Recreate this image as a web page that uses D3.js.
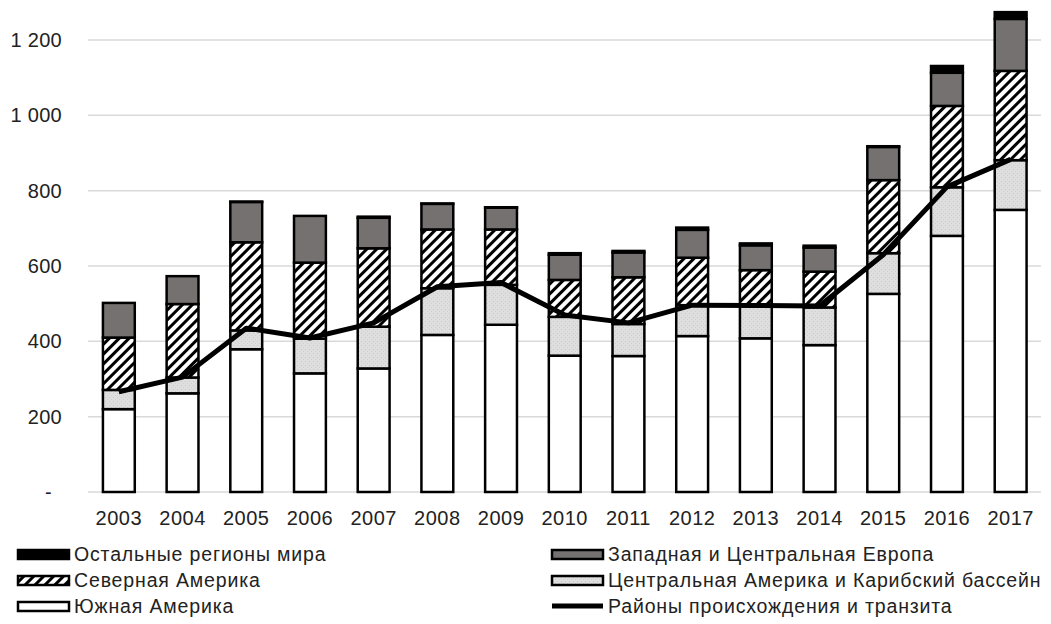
<!DOCTYPE html>
<html lang="ru">
<head>
<meta charset="UTF-8">
<title>Районы происхождения и транзита</title>
<script src="https://d3js.org/d3.v7.min.js"></script>
<style>
  body { margin: 0; background: #fff; }
  svg text { font-family: "Liberation Sans", Arial, sans-serif; fill: #222; }
</style>
</head>
<body>
<div id="chart"></div>
<script>
// values
const years = ["2003","2004","2005","2006","2007","2008","2009","2010","2011","2012","2013","2014","2015","2016","2017"];
const southAmerica     = [220, 262, 379, 315, 328, 417, 444, 362, 361, 414, 408, 390, 526, 680, 749];
const centralAmerica   = [ 51,  42,  50,  92, 111, 124, 106, 103,  85,  82,  86, 100, 108, 129, 132];
const northAmerica     = [139, 195, 234, 202, 208, 156, 147,  98, 124, 126,  95,  95, 194, 216, 237];
const westCentralEurope= [ 92,  74, 107, 124,  81,  68,  58,  67,  66,  74,  66,  64,  88,  88, 138];
const otherRegions     = [  0,   0,   1,   0,   3,   1,   1,   4,   4,   6,   5,   5,   2,  18,  18];
const originTransit    = [266, 305, 435, 409, 449, 545, 556, 470, 449, 496, 495, 494, 630, 810, 883];
const yTicks = [0, 200, 400, 600, 800, 1000, 1200];

const width = 1051, height = 624;
const svg = d3.select("#chart").append("svg")
    .attr("width", width).attr("height", height);

const defs = svg.append("defs");
const hatch = defs.append("pattern")
    .attr("id", "hatch")
    .attr("patternUnits", "userSpaceOnUse")
    .attr("width", 7).attr("height", 7)
    .attr("patternTransform", "rotate(45)");
hatch.append("rect").attr("width", 7).attr("height", 7).attr("fill", "#fff");
hatch.append("rect").attr("width", 3).attr("height", 7).attr("fill", "#000");

const dots = defs.append("pattern")
    .attr("id", "dots")
    .attr("patternUnits", "userSpaceOnUse")
    .attr("width", 4).attr("height", 4);
dots.append("rect").attr("width", 4).attr("height", 4).attr("fill", "#dedede");
dots.append("rect").attr("x", 1).attr("y", 1).attr("width", 1).attr("height", 1).attr("fill", "#c9c9c9");
dots.append("rect").attr("x", 3).attr("y", 3).attr("width", 1).attr("height", 1).attr("fill", "#cfcfcf");

const series = [
    { key: "sa",  name: "Южная Америка", values: southAmerica, fill: "#fff" },
    { key: "ca",  name: "Центральная Америка и Карибский бассейн", values: centralAmerica, fill: "url(#dots)" },
    { key: "na",  name: "Северная Америка", values: northAmerica, fill: "url(#hatch)" },
    { key: "wce", name: "Западная и Центральная Европа", values: westCentralEurope, fill: "#767171" },
    { key: "oth", name: "Остальные регионы мира", values: otherRegions, fill: "#000" }
];

const table = years.map((y, i) => {
    const row = { year: y };
    series.forEach(s => row[s.key] = s.values[i]);
    return row;
});

const x = d3.scaleBand()
    .domain(years)
    .range([87, 1042.5])
    .paddingInner(0.5)
    .paddingOuter(0.25);

const y = d3.scaleLinear()
    .domain([0, 1200])
    .range([492, 40]);

// gridlines
svg.append("g")
    .selectAll("line")
    .data(yTicks)
    .join("line")
    .attr("x1", 88).attr("x2", 1041)
    .attr("y1", d => y(d)).attr("y2", d => y(d))
    .attr("stroke", "#d9d9d9")
    .attr("stroke-width", 1.5);

// y labels
svg.append("g")
    .selectAll("text")
    .data(yTicks)
    .join("text")
    .attr("x", d => d === 0 ? 52 : 62)
    .attr("y", d => y(d))
    .attr("dy", "0.35em")
    .attr("text-anchor", "end")
    .attr("font-size", "20px")
    .attr("letter-spacing", "0.3px")
    .text(d => d === 0 ? "-" : d3.format(",")(d).replace(",", "\u00a0"));

// x axis
const xAxis = svg.append("g")
    .attr("transform", `translate(0,${y(0)})`)
    .call(d3.axisBottom(x).tickSize(0).tickPadding(19));
xAxis.select(".domain").remove();
xAxis.selectAll("text")
    .attr("font-size", "20px")
    .attr("letter-spacing", "0.5px")
    .attr("font-family", "'Liberation Sans', Arial, sans-serif")
    .attr("fill", "#222");

// stacked bars
const stacked = d3.stack().keys(series.map(s => s.key))(table);

svg.append("g")
    .selectAll("g")
    .data(stacked)
    .join("g")
    .attr("fill", (d, i) => series[i].fill)
    .selectAll("rect")
    .data(d => d)
    .join("rect")
    .attr("x", d => x(d.data.year))
    .attr("width", x.bandwidth())
    .attr("y", d => y(d[1]))
    .attr("height", d => y(d[0]) - y(d[1]))
    .attr("stroke", "#000")
    .attr("stroke-width", 2.5);

// line
const line = d3.line()
    .x((d, i) => x(years[i]) + x.bandwidth() / 2)
    .y(d => y(d));

svg.append("path")
    .datum(originTransit)
    .attr("d", line)
    .attr("fill", "none")
    .attr("stroke", "#000")
    .attr("stroke-width", 5)
    .attr("stroke-linejoin", "round");

// legend
const legendItems = [
    { s: series[4], col: 0, row: 0 },
    { s: series[3], col: 1, row: 0 },
    { s: series[2], col: 0, row: 1 },
    { s: series[1], col: 1, row: 1 },
    { s: series[0], col: 0, row: 2 },
    { s: null, name: "Районы происхождения и транзита", col: 1, row: 2 }
];
const colX = [18, 552];
const rowY = [554, 580, 606];

const legend = svg.append("g");
legendItems.forEach(item => {
    const g = legend.append("g")
        .attr("transform", `translate(${colX[item.col]},${rowY[item.row]})`);
    if (item.s) {
        g.append("rect")
            .attr("x", 0).attr("y", -4)
            .attr("width", 51).attr("height", 9)
            .attr("fill", item.s.fill)
            .attr("stroke", "#000")
            .attr("stroke-width", 2.5);
    } else {
        g.append("line")
            .attr("x1", 0).attr("x2", 51)
            .attr("y1", 0).attr("y2", 0)
            .attr("stroke", "#000")
            .attr("stroke-width", 5);
    }
    g.append("text")
        .attr("x", 56)
        .attr("y", 0)
        .attr("dy", "0.35em")
        .attr("font-size", "19.5px")
        .attr("letter-spacing", "0.85px")
        .text(item.s ? item.s.name : item.name);
});
</script>
</body>
</html>
